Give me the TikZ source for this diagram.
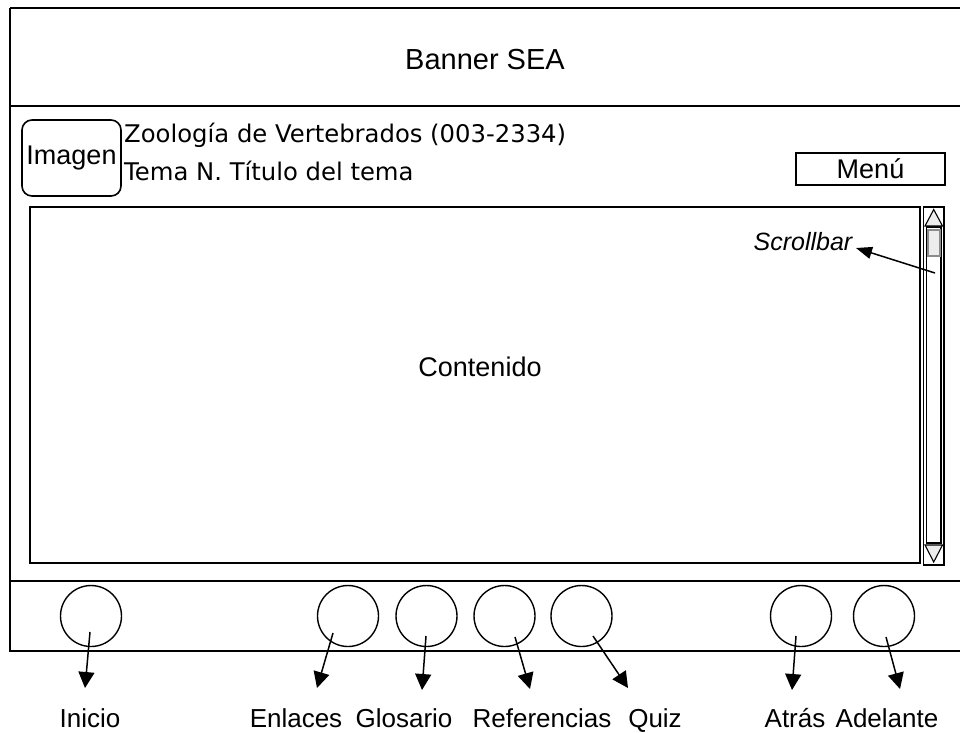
\documentclass[tikz,border=0pt]{standalone}
\usepackage{fontspec}
\setmainfont{Liberation Sans}
\newfontfamily\dejavu{DejaVu Sans}
\usetikzlibrary{arrows.meta}
\begin{document}
\begin{tikzpicture}[x={(1pt,0)},y={(0,-1pt)},
  frame/.style={draw=black,line width=1.8pt},
  thin/.style={draw=black,line width=1.2pt},
  txt/.style={inner sep=0pt,font=\fontsize{27}{32}\selectfont},
  big/.style={inner sep=0pt,font=\fontsize{29}{34}\selectfont},
  hdr/.style={inner sep=0pt,anchor=west,font=\dejavu\fontsize{24.3}{28}\selectfont},
  circ/.style={circle,draw=black,line width=1.4pt,minimum size=61pt,inner sep=0pt},
  lbl/.style={inner sep=0pt,anchor=base,font=\fontsize{26}{31}\selectfont},
  arr/.style={line width=1.5pt,-{Triangle[length=16pt,width=16pt]}},
  sarr/.style={line width=1.5pt,-{Triangle[length=16pt,width=12pt]}},
  tri/.style={draw=black,fill=black!7,line width=1.1pt,line join=miter}]
\useasboundingbox (0,0) rectangle (960,732);
\fill[white] (0,0) rectangle (960,732);
% outer frame and dividers
\draw[frame] (10,8) -- (975,8);
\draw[frame] (10,8) -- (10,651) -- (975,651);
\draw[frame] (10,106) -- (975,106);
\draw[frame] (10,581) -- (975,581);
\node[big] (banner) at (485,60) {Banner SEA};
% header
\node[draw=black,line width=1.6pt,rounded corners=10pt,minimum width=99pt,minimum height=76pt,inner sep=0pt] (img) at (71.5,158) {};
\node[txt] (imgt) at (img.center) {Imagen};
\node[hdr] (h1) at (124,135) {Zoología de Vertebrados (003-2334)};
\node[hdr] (h2) at (124,171) {Tema N. Título del tema};
\node[draw=black,line width=1.4pt,minimum width=149pt,minimum height=32pt,inner sep=0pt] (menu) at (870.5,169) {};
\node[txt] (menut) at (menu.center) {Menú};
% content
\node[draw=black,line width=1.8pt,minimum width=890pt,minimum height=356pt,inner sep=0pt] (cont) at (475,385) {};
\node[big,font=\fontsize{27}{32}\selectfont] (contt) at (480,367) {Contenido};
% scrollbar
\draw[thin] (923.5,207) rectangle (944,565);
\draw[thin] (926.5,227) rectangle (941,543);
\draw[tri] (925,226) -- (933.7,209.5) -- (942.5,226) -- cycle;
\draw[tri] (925,545) -- (942.5,545) -- (933.7,562) -- cycle;
\draw[draw=black!45,fill=black!7,line width=1.2pt] (928,230) rectangle (940,256);
\node[inner sep=0pt,font=\itshape\fontsize{25}{30}\selectfont,anchor=base] (sb) at (803,250) {Scrollbar};
\coordinate (sbs) at (935,273);
\coordinate (sbt) at (856,248);
\draw[sarr] (sbs) -- (sbt);
% navigation circles
\node[circ] (c1) at (91,616) {};
\node[circ] (c2) at (348,616) {};
\node[circ] (c3) at (426.5,616) {};
\node[circ] (c4) at (504.5,616) {};
\node[circ] (c5) at (581.5,616) {};
\node[circ] (c6) at (801,616) {};
\node[circ] (c7) at (884,616) {};
% arrow start and tip points
\coordinate (s1) at (90,632);  \coordinate (t1) at (85,688);
\coordinate (s2) at (333,633); \coordinate (t2) at (317,688);
\coordinate (s3) at (426,636); \coordinate (t3) at (422,690);
\coordinate (s4) at (515,637); \coordinate (t4) at (530,689);
\coordinate (s5) at (593,636); \coordinate (t5) at (628,688);
\coordinate (s6) at (796,636); \coordinate (t6) at (792,690);
\coordinate (s7) at (886,637); \coordinate (t7) at (900,689);
\foreach \i in {1,...,7} {\draw[arr] (s\i) -- (t\i);}
% labels
\node[lbl] (l1) at (90,727) {Inicio};
\node[lbl] (l2) at (296,727) {Enlaces};
\node[lbl] (l3) at (404,727) {Glosario};
\node[lbl] (l4) at (542,727) {Referencias};
\node[lbl] (l5) at (655,727) {Quiz};
\node[lbl] (l6) at (795,727) {Atrás};
\node[lbl] (l7) at (887,727) {Adelante};
\end{tikzpicture}
\end{document}
